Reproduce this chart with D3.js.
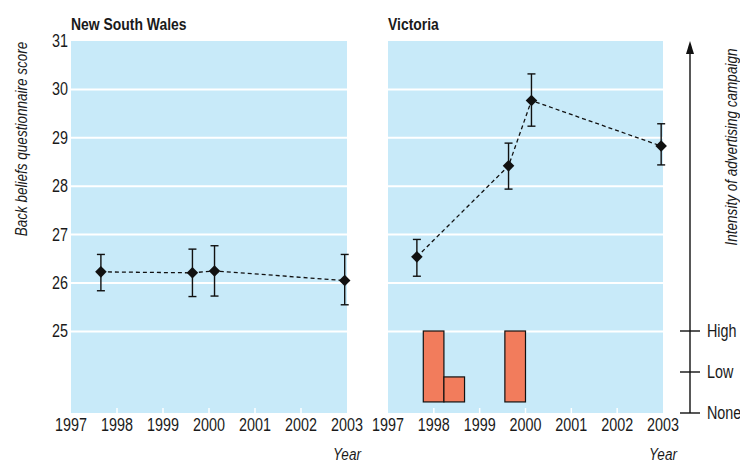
<!DOCTYPE html>
<html>
<head>
<meta charset="utf-8">
<script src="https://cdn.jsdelivr.net/npm/d3@7"></script>
<style>
  body { margin: 0; background: #fff; }
  text { font-family: "Liberation Sans", Arial, sans-serif; fill: #1a1a1a; }
</style>
</head>
<body>
<div id="chart"></div>
<script>
var svgWidth = 740;
var svgHeight = 463;

// Data
var years = [1997, 1998, 1999, 2000, 2001, 2002, 2003];
var scoreTicks = [25, 26, 27, 28, 29, 30, 31];

var nswYears = [1997.65, 1999.64, 2000.12, 2002.95];
var nswScore = [26.23, 26.21, 26.25, 26.05];
var nswLow = [25.84, 25.72, 25.73, 25.55];
var nswHigh = [26.59, 26.70, 26.77, 26.59];

var vicYears = [1997.63, 1999.63, 2000.13, 2002.96];
var vicScore = [26.54, 28.42, 29.77, 28.83];
var vicLow = [26.14, 27.94, 29.24, 28.44];
var vicHigh = [26.90, 28.89, 30.32, 29.29];

// advertising campaign bars (year start, year end, intensity level)
var barStart = [1997.77, 1998.22, 1999.55];
var barEnd = [1998.22, 1998.67, 2000.0];
var barLevel = [2, 0.88, 2];
var barBase = 0.27;

var intensityLabels = ["None", "Low", "High"];

var panels = [
  {title: "New South Wales", left: 71, right: 347, yrs: nswYears, score: nswScore, lo: nswLow, hi: nswHigh, bars: false},
  {title: "Victoria", left: 388, right: 663, yrs: vicYears, score: vicScore, lo: vicLow, hi: vicHigh, bars: true}
];

var plotTop = 41, plotBottom = 413;
var narrow = 0.82; // squeeze text to look like a narrow face

var svg = d3.select("#chart")
  .append("svg")
  .attr("width", svgWidth)
  .attr("height", svgHeight);

// text helper: narrow text at (x, y), optional rotation
function label(parent, x, y, str, size, opts) {
  opts = opts || {};
  var t = parent.append("text")
    .attr("transform", `translate(${x},${y})` + (opts.rotate ? ` rotate(${opts.rotate})` : "") + ` scale(${narrow},1)`)
    .attr("text-anchor", opts.anchor || "start")
    .style("font-size", size + "px")
    .text(str);
  if (opts.italic) t.style("font-style", "italic");
  if (opts.bold) t.style("font-weight", "bold");
  return t;
}

var yScale = d3.scaleLinear()
  .domain([31 - (plotBottom - plotTop) / 48.4, 31])
  .range([plotBottom, plotTop]);

var intensityScale = d3.scaleLinear()
  .domain([0, 2])
  .range([413, 331]);

var diamond = d3.symbol().type(d3.symbolDiamond2).size(85);

panels.forEach(function(p) {
  var xScale = d3.scaleLinear()
    .domain([1997, 2003])
    .range([p.left, p.right]);

  var g = svg.append("g");

  // background
  g.append("rect")
    .attr("x", p.left)
    .attr("y", plotTop)
    .attr("width", p.right - p.left)
    .attr("height", plotBottom - plotTop)
    .attr("fill", "#c8eaf9");

  // white gridlines
  g.selectAll(".grid")
    .data(scoreTicks.filter(d => d < 31))
    .enter()
    .append("line")
    .attr("x1", p.left)
    .attr("x2", p.right)
    .attr("y1", d => yScale(d))
    .attr("y2", d => yScale(d))
    .attr("stroke", "#fff")
    .attr("stroke-width", 2);

  // white ticks inside bottom
  g.selectAll(".xt")
    .data(years.slice(1, -1))
    .enter()
    .append("line")
    .attr("x1", d => xScale(d))
    .attr("x2", d => xScale(d))
    .attr("y1", plotBottom)
    .attr("y2", plotBottom - 5)
    .attr("stroke", "#fff")
    .attr("stroke-width", 1.5);

  // year labels
  years.forEach(function(yr) {
    label(g, xScale(yr), 431, yr, 17.5, {anchor: "middle"});
  });

  label(g, p.right, 460, "Year", 16.5, {anchor: "middle", italic: true});
  label(g, p.left, 30, p.title, 17, {bold: true});

  // bars
  if (p.bars) {
    var idx = d3.range(barStart.length);
    g.selectAll(".bar")
      .data(idx)
      .enter()
      .append("rect")
      .attr("x", i => xScale(barStart[i]))
      .attr("width", i => xScale(barEnd[i]) - xScale(barStart[i]))
      .attr("y", i => intensityScale(barLevel[i]))
      .attr("height", i => intensityScale(barBase) - intensityScale(barLevel[i]))
      .attr("fill", "#f27c5c")
      .attr("stroke", "#111")
      .attr("stroke-width", 1.2);
  }

  // dashed line
  var line = d3.line()
    .x(i => xScale(p.yrs[i]))
    .y(i => yScale(p.score[i]));

  var pts = d3.range(p.yrs.length);

  g.append("path")
    .attr("d", line(pts))
    .attr("fill", "none")
    .attr("stroke", "#111")
    .attr("stroke-width", 1.3)
    .attr("stroke-dasharray", "4,3");

  // error bars
  var eb = g.selectAll(".eb")
    .data(pts)
    .enter()
    .append("g");

  eb.append("line")
    .attr("x1", i => xScale(p.yrs[i]))
    .attr("x2", i => xScale(p.yrs[i]))
    .attr("y1", i => yScale(p.lo[i]))
    .attr("y2", i => yScale(p.hi[i]))
    .attr("stroke", "#111")
    .attr("stroke-width", 1.4);

  ["lo", "hi"].forEach(function(k) {
    eb.append("line")
      .attr("x1", i => xScale(p.yrs[i]) - 4)
      .attr("x2", i => xScale(p.yrs[i]) + 4)
      .attr("y1", i => yScale(p[k][i]))
      .attr("y2", i => yScale(p[k][i]))
      .attr("stroke", "#111")
      .attr("stroke-width", 1.4);
  });

  eb.append("path")
    .attr("d", diamond)
    .attr("transform", i => `translate(${xScale(p.yrs[i])},${yScale(p.score[i])})`)
    .attr("fill", "#111");
});

// left y labels
scoreTicks.forEach(function(d) {
  label(svg, 68, yScale(d) + 6, d, 17.5, {anchor: "end"});
});

label(svg, 27, 139, "Back beliefs questionnaire score", 16.5, {anchor: "middle", italic: true, rotate: -90});

// intensity axis
var ax = 690;
svg.append("line")
  .attr("x1", ax).attr("x2", ax)
  .attr("y1", intensityScale(0))
  .attr("y2", 52)
  .attr("stroke", "#111")
  .attr("stroke-width", 1.4);

svg.append("path")
  .attr("d", `M${ax - 4},54 L${ax},41 L${ax + 4},54 Z`)
  .attr("fill", "#111");

svg.selectAll(".it")
  .data(intensityLabels)
  .enter()
  .append("line")
  .attr("x1", ax - 10)
  .attr("x2", ax + 10)
  .attr("y1", (d, i) => intensityScale(i))
  .attr("y2", (d, i) => intensityScale(i))
  .attr("stroke", "#111")
  .attr("stroke-width", 1.4);

intensityLabels.forEach(function(d, i) {
  label(svg, 707, intensityScale(i) + 6, d, 17.5);
});

label(svg, 737, 147, "Intensity of advertising campaign", 16.5, {anchor: "middle", italic: true, rotate: -90});
</script>
</body>
</html>
